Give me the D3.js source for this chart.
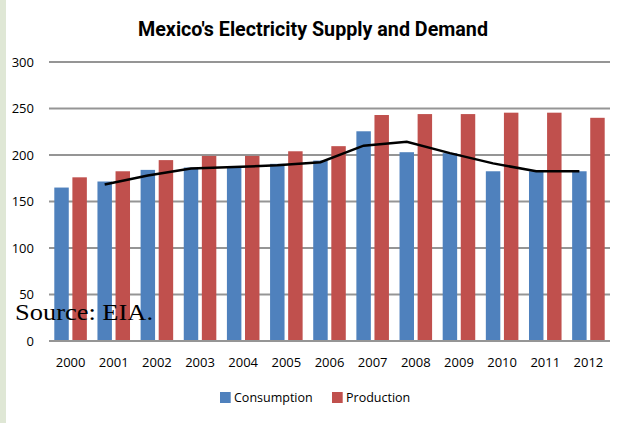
<!DOCTYPE html>
<html>
<head>
<meta charset="utf-8">
<script src="https://cdn.jsdelivr.net/npm/d3@7"></script>
<style>
  html, body { margin: 0; padding: 0; background: #fff; }
  svg { display: block; }
</style>
</head>
<body>
<svg id="chart" width="626" height="423"></svg>
<script>
const years = ["2000","2001","2002","2003","2004","2005","2006","2007","2008","2009","2010","2011","2012"];
const consumption = [165, 171.5, 184, 186.5, 187.5, 190.5, 194, 225.5, 203, 202, 182.5, 182.5, 182.5];
const production  = [176, 182.5, 194.5, 199, 199, 204, 209.5, 243, 244, 244, 245.5, 245.5, 240];
const trendYears  = ["2001","2002","2003","2004","2005","2006","2007","2008","2009","2010","2011","2012"];
const trendValues = [168.3, 178, 185.5, 187, 189, 192.3, 210, 214.3, 202, 191, 182.5, 182.5];
const yTicks = [0, 50, 100, 150, 200, 250, 300];
const seriesNames = ["Consumption", "Production"];
const colors = ["#4F81BD", "#C0504D"];

const svg = d3.select("#chart");

// left pale strip
svg.append("rect").attr("x", 0).attr("y", 0).attr("width", 6).attr("height", 423).attr("fill", "#dfe7d5");

const x = d3.scaleBand().domain(years).range([49, 610]).paddingInner(0).paddingOuter(0);
const x1 = d3.scaleBand().domain(["c", "p"]).range([0, x.bandwidth()]).paddingInner(0.2).paddingOuter(0.293);
const y = d3.scaleLinear().domain([0, 300]).range([341, 62]);

// title
svg.append("text")
  .attr("x", 313).attr("y", 35.7)
  .attr("text-anchor", "middle")
  .attr("font-family", "'Liberation Sans Narrow', Roboto, 'Open Sans', sans-serif")
  .attr("font-weight", "bold")
  .attr("font-size", 21)
  .attr("textLength", 350)
  .attr("lengthAdjust", "spacingAndGlyphs")
  .attr("fill", "#000")
  .text("Mexico's Electricity Supply and Demand");

// gridlines
svg.append("g").selectAll("line").data(yTicks).join("line")
  .attr("x1", 49).attr("x2", 610)
  .attr("y1", d => y(d)).attr("y2", d => y(d))
  .attr("stroke", "#959595").attr("stroke-width", 2);

// y tick labels
svg.append("g").selectAll("text").data(yTicks).join("text")
  .attr("x", 34).attr("y", d => y(d))
  .attr("dy", "0.35em")
  .attr("text-anchor", "end")
  .attr("font-family", "'Open Sans', sans-serif")
  .attr("font-size", 13)
  .attr("fill", "#000")
  .text(d => d);

// bars
const barData = [];
years.forEach((yr, i) => {
  barData.push({ year: yr, key: "c", value: consumption[i], color: colors[0] });
  barData.push({ year: yr, key: "p", value: production[i], color: colors[1] });
});
svg.append("g").selectAll("rect").data(barData).join("rect")
  .attr("x", d => x(d.year) + x1(d.key))
  .attr("width", x1.bandwidth())
  .attr("y", d => y(d.value))
  .attr("height", d => y(0) - y(d.value) - 1)
  .attr("fill", d => d.color);

// x labels
svg.append("g").selectAll("text").data(years).join("text")
  .attr("x", d => x(d) + x.bandwidth() / 2)
  .attr("y", 366.7)
  .attr("text-anchor", "middle")
  .attr("font-family", "'Open Sans', sans-serif")
  .attr("font-size", 13)
  .attr("fill", "#000")
  .text(d => d);

// trend line
const line = d3.line()
  .x((d, i) => x(trendYears[i]) + x1("c") + x1.bandwidth() / 2)
  .y(d => y(d));
svg.append("path")
  .datum(trendValues)
  .attr("d", line)
  .attr("fill", "none")
  .attr("stroke", "#000")
  .attr("stroke-width", 2.5);

// source text
svg.append("text")
  .attr("x", 15).attr("y", 319.5)
  .attr("font-family", "'Liberation Serif', 'DejaVu Serif', serif")
  .attr("font-size", 24)
  .attr("textLength", 138)
  .attr("lengthAdjust", "spacingAndGlyphs")
  .attr("fill", "#000")
  .text("Source: EIA.");

// legend
const legendX = [220, 332];
const lg = svg.append("g").selectAll("g").data(seriesNames).join("g");
lg.append("rect")
  .attr("x", (d, i) => legendX[i]).attr("y", 392)
  .attr("width", 10.7).attr("height", 11)
  .attr("fill", (d, i) => colors[i]);
lg.append("text")
  .attr("x", (d, i) => legendX[i] + 14).attr("y", 402.3)
  .attr("font-family", "'Open Sans', sans-serif")
  .attr("font-size", 12.5)
  .attr("fill", "#000")
  .text(d => d);
</script>
</body>
</html>
